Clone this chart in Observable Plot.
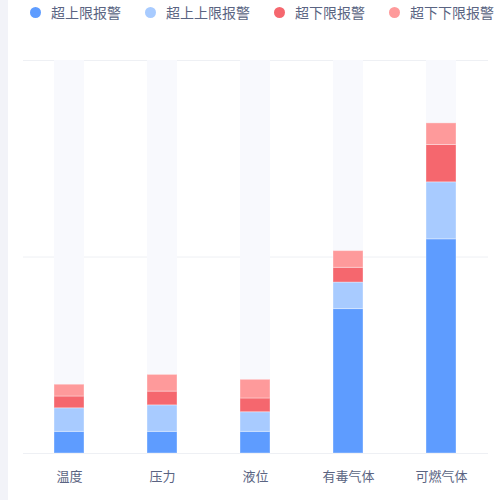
<!DOCTYPE html>
<html>
<head>
<meta charset="utf-8">
<script src="https://cdn.jsdelivr.net/npm/d3@7"></script>
<script src="https://cdn.jsdelivr.net/npm/@observablehq/plot@0.6"></script>
<style>
  html, body { margin: 0; padding: 0; background: #fff; }
  body { width: 500px; height: 500px; position: relative; overflow: hidden;
         font-family: "Noto Sans CJK SC", "Noto Sans", sans-serif; }
  #strip { position: absolute; left: 0; top: 0; width: 8px; height: 500px; background: #f2f3f8; }
  #legend { height: 24px; display: flex; align-items: center; padding-left: 30px; gap: 24px;
            font-size: 14px; color: #5a6482; white-space: nowrap; }
  .item { display: flex; align-items: center; }
  .dot { width: 11px; height: 11px; border-radius: 50%; margin-right: 10px; }
</style>
</head>
<body>
<div id="strip"></div>
<div id="legend"></div>
<div id="chart"></div>
<script>
const categories = ["温度", "压力", "液位", "有毒气体", "可燃气体"];
const seriesNames = ["超上限报警", "超上上限报警", "超下限报警", "超下下限报警"];
const seriesColors = ["#5e9cff", "#a8cbff", "#f5676e", "#fe9a9b"];
const upperAlarm = [11, 11, 11, 73.5, 109];
const upperUpperAlarm = [12, 13.5, 10, 13.5, 29];
const lowerAlarm = [6, 7, 7, 7.5, 19];
const lowerLowerAlarm = [6, 8.5, 9.5, 8.5, 11];
const yMax = 200;
const gridValues = [0, 100, 200];

const seriesValues = [upperAlarm, upperUpperAlarm, lowerAlarm, lowerLowerAlarm];
const data = [];
seriesNames.forEach((s, i) => categories.forEach((c, j) => data.push({category: c, series: s, value: seriesValues[i][j]})));

const legend = document.getElementById("legend");
seriesNames.forEach((s, i) => {
  const it = document.createElement("div");
  it.className = "item";
  it.innerHTML = `<span class="dot" style="background:${seriesColors[i]}"></span><span>${s}</span>`;
  legend.appendChild(it);
});

const chart = Plot.plot({
  width: 500,
  height: 476,
  marginTop: 36,
  marginBottom: 47,
  marginLeft: 23,
  marginRight: 12,
  style: {fontFamily: '"Noto Sans CJK SC", sans-serif', fontSize: "13px", background: "transparent"},
  x: {domain: categories, paddingInner: 0.677, paddingOuter: 0.3385, label: null},
  y: {domain: [0, yMax], axis: null},
  color: {domain: seriesNames, range: seriesColors},
  marks: [
    Plot.ruleY(gridValues, {stroke: "#eef0f4", strokeWidth: 1}),
    Plot.barY(categories, {x: d => d, y: () => yMax, fill: "#f8f9fd"}),
    Plot.barY(data, {x: "category", y: "value", fill: "series", stroke: "#ffffff", strokeOpacity: 0.35, strokeWidth: 1, order: seriesNames}),
    Plot.axisX({tickSize: 0, tickPadding: 18, fill: "#5a6482", fontSize: 13})
  ]
});
document.getElementById("chart").appendChild(chart);
</script>
</body>
</html>
